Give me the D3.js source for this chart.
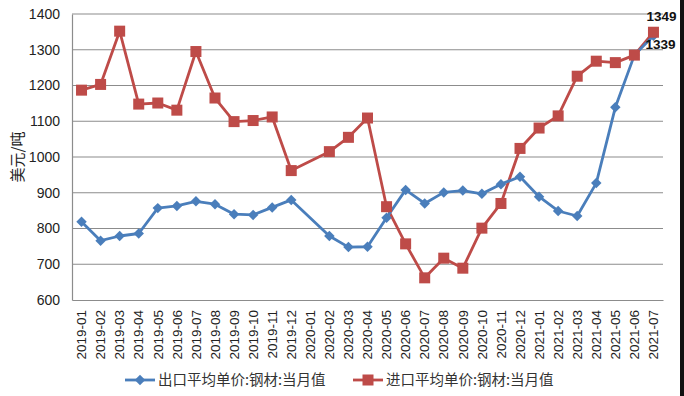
<!DOCTYPE html>
<html><head><meta charset="utf-8">
<script src="https://cdn.jsdelivr.net/npm/d3@7"></script>
<style>body{margin:0;background:#fff}svg{display:block}</style>
</head><body>
<svg id="c" width="684" height="396"></svg>
<script>
const categories = ["2019-01","2019-02","2019-03","2019-04","2019-05","2019-06","2019-07","2019-08","2019-09","2019-10","2019-11","2019-12","2020-01","2020-02","2020-03","2020-04","2020-05","2020-06","2020-07","2020-08","2020-09","2020-10","2020-11","2020-12","2021-01","2021-02","2021-03","2021-04","2021-05","2021-06","2021-07"];
const exportPrice = [819,766,779,786,857,863,876,868,840,838,859,880,null,779,748,749,830,908,870,901,906,897,924,945,889,849,835,927,1139,1285,1339];
const importPrice = [1187,1203,1352,1148,1151,1131,1295,1165,1099,1102,1112,962,null,1015,1055,1109,861,757,662,717,689,801,870,1024,1081,1115,1226,1268,1264,1285,1349];
const yTicks = [600,700,800,900,1000,1100,1200,1300,1400];
const seriesNames = ["出口平均单价:钢材:当月值","进口平均单价:钢材:当月值"];
const lastLabels = ["1339","1349"];

const svg = d3.select("#c");
const L = 72, R = 663, T = 14, B = 300;
const x = d3.scaleBand().domain(categories).range([L, R]).padding(0);
const cx = d => x(d) + x.bandwidth() / 2;
const y = d3.scaleLinear().domain([600, 1400]).range([B, T]);
const blue = "#4a7ebb", red = "#be4b48";
const numFont = "'Liberation Sans', Arial, sans-serif";
const cjkFont = "'Noto Sans CJK SC', sans-serif";

// gridlines
svg.append("g").selectAll("line").data(yTicks.slice(1)).join("line")
  .attr("x1", L).attr("x2", R).attr("y1", d => y(d)).attr("y2", d => y(d))
  .attr("stroke", "#8c8c8c").attr("stroke-width", 1.2);

// y axis
const ya = svg.append("g").attr("transform", `translate(${L},0)`)
  .call(d3.axisLeft(y).tickValues(yTicks).tickFormat(d3.format("d")).tickSize(0).tickPadding(12));
ya.select(".domain").attr("stroke", "#8c8c8c").attr("stroke-width", 1.2);
ya.selectAll("text").attr("font-family", numFont).attr("font-size", 14).attr("fill", "#222");

// x axis
const xa = svg.append("g").attr("transform", `translate(0,${B})`)
  .call(d3.axisBottom(x).tickSize(0).tickPadding(0));
xa.select(".domain").attr("stroke", "#8c8c8c").attr("stroke-width", 1.2);
xa.selectAll("text")
  .attr("font-family", numFont).attr("font-size", 13.5).attr("fill", "#222")
  .attr("transform", "rotate(-90)")
  .attr("text-anchor", "end").attr("dy", "0.35em").attr("dx", 0)
  .attr("x", -10).attr("y", 0);

// y title
svg.append("text").attr("transform", "translate(18,157) rotate(-90)")
  .attr("text-anchor", "middle").attr("dy", "0.35em").attr("font-family", cjkFont).attr("font-size", 15)
  .attr("fill", "#222").text("美元/吨");

const line = d3.line().defined(d => d.v != null).x(d => cx(d.c)).y(d => y(d.v));
function series(vals) {
  return categories.map((c, i) => ({c, v: vals[i]})).filter(d => d.v != null);
}
const exp = series(exportPrice), imp = series(importPrice);

svg.append("path").datum(imp).attr("d", line).attr("fill", "none")
  .attr("stroke", red).attr("stroke-width", 2.8).attr("stroke-linejoin", "round");
svg.append("path").datum(exp).attr("d", line).attr("fill", "none")
  .attr("stroke", blue).attr("stroke-width", 2.8).attr("stroke-linejoin", "round");

const diamond = d3.symbol().type(d3.symbolDiamond2).size(70);
svg.append("g").selectAll("path").data(exp).join("path")
  .attr("d", diamond).attr("transform", d => `translate(${cx(d.c)},${y(d.v)})`).attr("fill", blue);
svg.append("g").selectAll("rect").data(imp).join("rect")
  .attr("x", d => cx(d.c) - 5.5).attr("y", d => y(d.v) - 5.5)
  .attr("width", 11).attr("height", 11).attr("fill", red);

// end labels
const lastC = categories[categories.length - 1];
svg.append("text").attr("x", cx(lastC) + 8).attr("y", y(importPrice[importPrice.length - 1]) - 11)
  .attr("text-anchor", "middle").attr("font-family", numFont).attr("font-weight", "bold")
  .attr("font-size", 13.5).attr("fill", "#111").text(lastLabels[1]);
svg.append("text").attr("x", cx(lastC) + 7).attr("y", y(exportPrice[exportPrice.length - 1]) + 13)
  .attr("text-anchor", "middle").attr("font-family", numFont).attr("font-weight", "bold")
  .attr("font-size", 13.5).attr("fill", "#111").text(lastLabels[0]);

// legend
const lg = svg.append("g");
const legItems = [{x: 125, color: blue, shape: "d", name: seriesNames[0]},
                  {x: 353, color: red, shape: "s", name: seriesNames[1]}];
legItems.forEach(it => {
  const ly = 380;
  lg.append("line").attr("x1", it.x).attr("x2", it.x + 30).attr("y1", ly).attr("y2", ly)
    .attr("stroke", it.color).attr("stroke-width", 2.8);
  if (it.shape === "d") {
    lg.append("path").attr("d", diamond).attr("transform", `translate(${it.x + 15},${ly})`).attr("fill", it.color);
  } else {
    lg.append("rect").attr("x", it.x + 15 - 5.5).attr("y", ly - 5.5).attr("width", 11).attr("height", 11).attr("fill", it.color);
  }
  lg.append("text").attr("x", it.x + 33).attr("y", ly).attr("dy", "0.35em")
    .attr("font-family", cjkFont).attr("font-size", 14.5).attr("fill", "#333").text(it.name);
});

// right frame edge
svg.append("rect").attr("x", 680).attr("y", 0).attr("width", 4).attr("height", 396).attr("fill", "#111");
</script>
</body></html>
